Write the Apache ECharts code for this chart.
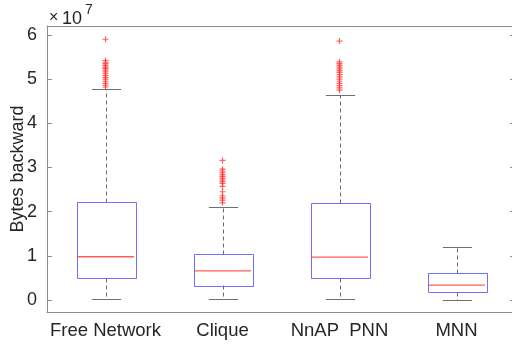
<!DOCTYPE html>
<html><head><meta charset="utf-8">
<script src="https://cdn.jsdelivr.net/npm/echarts@6/dist/echarts.min.js"></script>
<style>html,body{margin:0;padding:0;background:#fff}#c{width:512px;height:345px}</style>
</head><body><div id="c"></div>
<script>
// values in units of 1e7 bytes (axis shows x10^7)
const categories = ['Free Network', 'Clique', 'NnAP  PNN', 'MNN'];
const lowerWhisker = [0.02, 0.02, 0.02, 0.0];
const q1 = [0.50, 0.33, 0.50, 0.18];
const median = [0.98, 0.66, 0.97, 0.34];
const q3 = [2.21, 1.05, 2.19, 0.61];
const upperWhisker = [4.77, 2.10, 4.63, 1.20];
const outliersFree = [5.90, 5.42, 5.38, 5.35, 5.31, 5.27, 5.24, 5.20, 5.16, 5.12, 5.08, 5.04, 5.00, 4.95, 4.90, 4.86, 4.82];
const outliersClique = [3.16, 2.96, 2.92, 2.88, 2.84, 2.80, 2.76, 2.72, 2.68, 2.64, 2.57, 2.45, 2.36, 2.31, 2.26, 2.20];
const outliersNnAP = [5.86, 5.39, 5.35, 5.31, 5.27, 5.23, 5.19, 5.15, 5.10, 5.05, 5.00, 4.95, 4.90, 4.85, 4.80, 4.75];
const outliersMNN = [];
const yTickValues = [0, 1, 2, 3, 4, 5, 6];

const boxData = categories.map((c, i) => [i, lowerWhisker[i], q1[i], q3[i], upperWhisker[i]]);
const medianData = categories.map((c, i) => [i, median[i]]);
const outlierData = [];
[outliersFree, outliersClique, outliersNnAP, outliersMNN].forEach((arr, i) => arr.forEach(v => outlierData.push([i, v])));

const FONT = 'Liberation Sans';
const AX = '#8c8c8c';
const TXT = '#262626';

function renderBox(params, api) {
  const i = api.value(0);
  const band = api.size([1, 0])[0];
  const hb = band * 0.25, hc = band * 0.125;
  const pLo = api.coord([i, api.value(1)]);
  const pQ1 = api.coord([i, api.value(2)]);
  const pQ3 = api.coord([i, api.value(3)]);
  const pHi = api.coord([i, api.value(4)]);
  const x = Math.round(pQ1[0]) + 0.5;
  const r = v => Math.round(v) + 0.5;
  return {type: 'group', children: [
    {type: 'line', shape: {x1: x, y1: r(pQ3[1]), x2: x, y2: r(pHi[1])}, style: {stroke: '#6a6a6a', fill: null, lineWidth: 1, lineDash: [4, 3]}},
    {type: 'line', shape: {x1: x, y1: r(pQ1[1]), x2: x, y2: r(pLo[1])}, style: {stroke: '#6a6a6a', fill: null, lineWidth: 1, lineDash: [4, 3]}},
    {type: 'line', shape: {x1: x - hc, y1: r(pHi[1]), x2: x + hc, y2: r(pHi[1])}, style: {stroke: '#707070', fill: null, lineWidth: 1}},
    {type: 'line', shape: {x1: x - hc, y1: r(pLo[1]), x2: x + hc, y2: r(pLo[1])}, style: {stroke: '#707070', fill: null, lineWidth: 1}},
    {type: 'rect', shape: {x: r(x - hb), y: r(pQ3[1]), width: Math.round(2 * hb), height: Math.round(pQ1[1] - pQ3[1])},
      style: {fill: 'none', stroke: '#7070ff', lineWidth: 1}}
  ]};
}

const chart = echarts.init(document.getElementById('c'), null, {renderer: 'canvas'});
chart.setOption({
  animation: false,
  backgroundColor: '#fff',
  textStyle: {fontFamily: FONT},
  grid: {left: 47, top: 26, width: 468, bottom: 33, containLabel: false, outerBoundsMode: 'none'},
  graphic: [
    {type: 'text', left: 49, top: 10, style: {text: '×', font: '16px ' + FONT, fill: TXT}},
    {type: 'text', left: 62, top: 10, style: {text: '10', font: '18px ' + FONT, fill: TXT}},
    {type: 'text', left: 85, top: 3, style: {text: '7', font: '14px ' + FONT, fill: TXT}}
  ],
  xAxis: [{
    type: 'category', data: categories, position: 'bottom', boundaryGap: true,
    axisLine: {show: true, onZero: false, lineStyle: {color: AX}},
    axisTick: {inside: true, alignWithLabel: true, length: 5, lineStyle: {color: AX}},
    axisLabel: {color: TXT, fontSize: 18.5, margin: 9, fontFamily: FONT, interval: 0},
    splitLine: {show: false}
  }, {
    type: 'category', data: categories, position: 'top', boundaryGap: true,
    axisLine: {show: true, onZero: false, lineStyle: {color: AX}},
    axisTick: {inside: true, alignWithLabel: true, length: 5, lineStyle: {color: AX}},
    axisLabel: {show: false}
  }],
  yAxis: [{
    type: 'value', min: -0.27, max: 6.2, position: 'left',
    name: 'Bytes backward', nameLocation: 'middle', nameGap: 20, nameRotate: 90, nameMoveOverlap: false,
    nameTextStyle: {color: TXT, fontSize: 18, fontFamily: FONT},
    axisLine: {show: true, onZero: false, lineStyle: {color: AX}},
    axisTick: {show: true, inside: true, length: 5, lineStyle: {color: AX}, customValues: yTickValues},
    axisLabel: {color: TXT, fontSize: 18, margin: 10, fontFamily: FONT, customValues: yTickValues,
      formatter: v => String(Math.round(v))},
    splitLine: {show: false}
  }, {
    type: 'value', min: -0.27, max: 6.2, position: 'right',
    axisLine: {show: true, onZero: false, lineStyle: {color: AX}},
    axisTick: {show: true, inside: true, length: 5, lineStyle: {color: AX}, customValues: yTickValues},
    axisLabel: {show: false}, splitLine: {show: false}
  }],
  series: [{
    type: 'custom', xAxisIndex: 0, yAxisIndex: 0, renderItem: renderBox,
    encode: {x: 0, y: [1, 2, 3, 4]}, data: boxData, z: 2
  }, {
    type: 'scatter', xAxisIndex: 0, yAxisIndex: 0, data: medianData,
    symbol: 'rect', symbolSize: [57, 1.3],
    itemStyle: {color: '#ff4040', opacity: 0.85}, z: 4
  }, {
    type: 'scatter', xAxisIndex: 0, yAxisIndex: 0, data: outlierData,
    symbol: 'path://M4,0H6V4H10V6H6V10H4V6H0V4H4Z', symbolSize: 6,
    itemStyle: {color: '#ff3030', opacity: 0.75}, z: 3
  }]
});
</script></body></html>
